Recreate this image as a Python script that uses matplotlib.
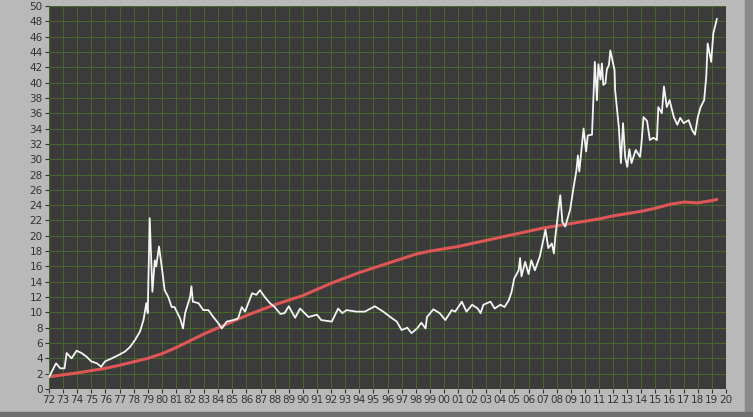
import matplotlib
matplotlib.use("Agg")
import matplotlib.pyplot as plt
from matplotlib.patches import Rectangle

# white series: (decimal year, value)
price_year = [
    1972.0, 1972.07, 1972.5, 1972.8, 1973.1, 1973.25, 1973.6, 1973.96, 1974.3, 1974.67,
    1975.0, 1975.4, 1975.7, 1975.97, 1976.45, 1976.9, 1977.4, 1977.75, 1978.1, 1978.45,
    1978.7, 1978.9, 1979.0, 1979.14, 1979.25, 1979.33, 1979.5, 1979.6, 1979.8, 1979.99,
    1980.2, 1980.46, 1980.7, 1980.9, 1981.3, 1981.5, 1981.65, 1982.0, 1982.1, 1982.2,
    1982.6, 1982.94, 1983.3, 1983.65, 1984.0, 1984.25, 1984.6, 1985.07, 1985.4, 1985.67,
    1985.9, 1986.13, 1986.4, 1986.7, 1986.96, 1987.3, 1987.67, 1988.0, 1988.4, 1988.7,
    1989.0, 1989.45, 1989.8, 1990.4, 1991.0, 1991.3, 1992.05, 1992.5, 1992.8, 1993.1,
    1993.8, 1994.4, 1995.1, 1995.7, 1996.2, 1996.66, 1997.0, 1997.4, 1997.7, 1998.1,
    1998.4, 1998.7, 1998.8, 1999.25, 1999.7, 2000.1, 2000.56, 2000.8, 2001.27, 2001.6,
    2002.0, 2002.4, 2002.6, 2002.8, 2003.3, 2003.6, 2004.0, 2004.3, 2004.6, 2004.8,
    2004.98, 2005.3, 2005.4, 2005.5, 2005.76, 2006.0, 2006.2, 2006.45, 2006.8, 2007.2,
    2007.4, 2007.65, 2007.8, 2007.9, 2008.25, 2008.4, 2008.6, 2008.95, 2009.2, 2009.4,
    2009.5, 2009.6, 2009.9, 2010.08, 2010.2, 2010.5, 2010.7, 2010.85, 2010.95, 2011.1,
    2011.2, 2011.3, 2011.45, 2011.55, 2011.7, 2011.8, 2012.1, 2012.14, 2012.4, 2012.55,
    2012.7, 2012.85, 2013.0, 2013.15, 2013.3, 2013.6, 2013.9, 2014.0, 2014.15, 2014.4,
    2014.6, 2014.85, 2015.1, 2015.2, 2015.45, 2015.6, 2015.8, 2016.0, 2016.3, 2016.55,
    2016.75, 2017.0, 2017.35, 2017.6, 2017.8, 2018.0, 2018.2, 2018.45, 2018.6, 2018.7,
    2018.95, 2019.1, 2019.35,
]
price_val = [
    1.6, 1.8, 3.35, 2.7, 2.7, 4.7, 4.0, 5.0, 4.7, 4.2,
    3.6, 3.35, 2.9, 3.6, 4.0, 4.4, 4.9, 5.5, 6.4, 7.5,
    9.0, 11.2, 9.9, 22.3, 16.8, 12.7, 16.8, 16.0, 18.6, 16.0,
    12.9, 12.0, 10.7, 10.7, 9.2, 7.9, 9.9, 12.0, 13.4, 11.4,
    11.2, 10.3, 10.3, 9.4, 8.6, 7.9, 8.8, 9.0, 9.2, 10.7,
    10.1, 11.2, 12.5, 12.3, 12.9, 12.0, 11.2, 10.7, 9.8, 9.9,
    10.8, 9.3, 10.5, 9.4, 9.7, 9.0, 8.8, 10.5, 9.9, 10.3,
    10.1, 10.1, 10.8, 10.1, 9.4, 8.8, 7.7, 8.0, 7.3, 7.9,
    8.65, 7.9, 9.4, 10.4, 9.9, 9.0, 10.3, 10.1, 11.4, 10.1,
    11.0, 10.5, 9.9, 11.0, 11.4, 10.5, 11.0, 10.7, 11.6, 12.7,
    14.4, 15.5, 17.1, 14.7, 16.6, 15.0, 16.8, 15.5, 17.3, 20.8,
    18.4, 19.0, 17.7, 19.9, 25.3, 21.8, 21.2, 23.4, 26.4, 28.6,
    30.5, 28.4, 34.0, 31.0, 33.1, 33.2, 42.7, 37.7, 42.4, 40.4,
    42.5, 39.7, 39.9, 41.7, 42.3, 44.2, 41.6, 39.0, 34.2, 29.5,
    34.7, 30.3, 29.0, 31.3, 29.5, 31.2, 30.3, 31.9, 35.5, 35.0,
    32.5, 32.8, 32.5, 36.8, 36.0, 39.5, 36.8, 37.7, 35.5, 34.5,
    35.4, 34.7, 35.1, 33.8, 33.2, 35.5, 36.8, 37.7, 40.8, 45.1,
    42.7, 46.4, 48.3,
]

# red series: smooth trend, roughly yearly
trend_year = [
    1972.0, 1973, 1974, 1975, 1976, 1977, 1978, 1979, 1980, 1981, 1982, 1983, 1984,
    1985, 1986, 1987, 1988, 1989, 1990, 1991, 1992, 1993, 1994, 1995, 1996, 1997,
    1998, 1999, 2000, 2001, 2002, 2003, 2004, 2005, 2006, 2007, 2008, 2009, 2010,
    2011, 2012, 2013, 2014, 2015, 2016, 2017, 2018, 2019, 2019.35,
]
trend_val = [
    1.6, 1.85, 2.1, 2.4, 2.7, 3.1, 3.55, 4.0, 4.6, 5.4, 6.3, 7.2, 8.0,
    8.8, 9.6, 10.3, 11.0, 11.6, 12.2, 13.0, 13.8, 14.5, 15.2, 15.8, 16.4, 17.0,
    17.6, 18.0, 18.3, 18.6, 19.0, 19.4, 19.8, 20.2, 20.6, 21.0, 21.3, 21.6, 21.9,
    22.2, 22.6, 22.9, 23.2, 23.6, 24.1, 24.4, 24.3, 24.6, 24.75,
]

years = list(range(1972, 2021))
yticks = list(range(0, 51, 2))

fig = plt.figure(figsize=(7.53, 4.17), dpi=100, facecolor="#b9b9b9")
# window frame strips
fig.patches.append(Rectangle((745 / 753, 0), 8 / 753, 1, transform=fig.transFigure,
                             color="#8a8a8a", zorder=0))
fig.patches.append(Rectangle((0, 0), 1, 5 / 417, transform=fig.transFigure,
                             color="#6f6f6f", zorder=0))

ax = fig.add_axes([49 / 753, (417 - 389) / 417, 677 / 753, 383 / 417])
ax.set_facecolor("#3b3b3b")
ax.plot(trend_year, trend_val, color="#e05555", lw=2.2, solid_capstyle="round")
ax.plot(price_year, price_val, color="#f4f4f4", lw=1.3)

ax.set_xlim(1972, 2020)
ax.set_ylim(0, 50)
ax.set_xticks(years)
ax.set_xticklabels([f"{y % 100:02d}" for y in years])
ax.set_yticks(yticks)
ax.grid(True, color="#47682a", lw=0.7)
ax.set_axisbelow(True)
for s in ax.spines.values():
    s.set_visible(False)
ax.tick_params(colors="#333333", labelsize=7.5, length=3, width=0.8, pad=1.5)

fig.savefig("out.png", dpi=100, facecolor=fig.get_facecolor())
